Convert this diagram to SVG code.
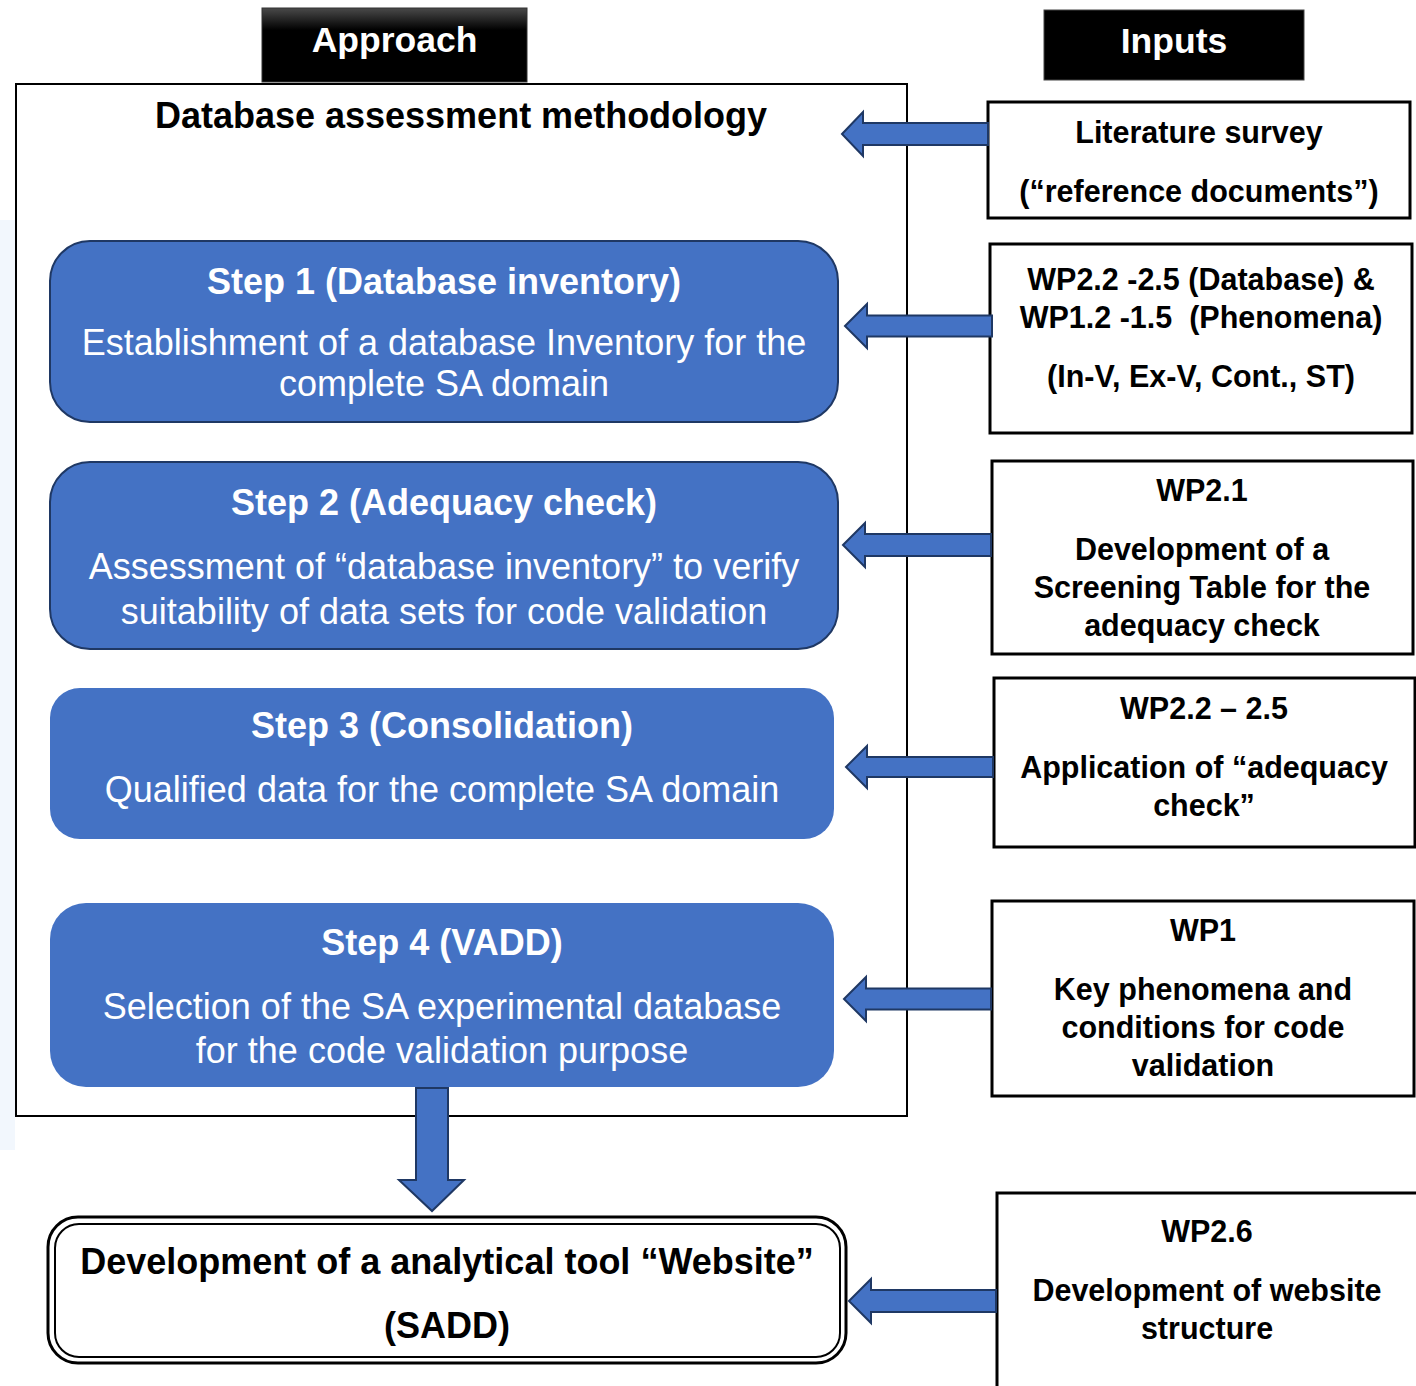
<svg xmlns="http://www.w3.org/2000/svg" width="1416" height="1386" viewBox="0 0 1416 1386">
  <defs>
    <linearGradient id="hdr" x1="0" y1="0" x2="0" y2="1">
      <stop offset="0" stop-color="#4a4a4a"/>
      <stop offset="0.3" stop-color="#000"/>
      <stop offset="1" stop-color="#000"/>
    </linearGradient>
  </defs>
  <style>
    text { font-family: "Liberation Sans", Arial, sans-serif; text-anchor: middle; }
    .hdr { font-size: 35.5px; font-weight: bold; fill: #fff; }
    .big { font-size: 36px; font-weight: bold; fill: #000; }
    .st { font-size: 36px; font-weight: bold; fill: #fff; }
    .sb { font-size: 36px; fill: #fff; }
    .in { font-size: 30.5px; font-weight: bold; fill: #000; }
    .step { fill: #4472C4; }
    .edged { stroke: #1F3864; stroke-width: 2; }
    .inbox { fill: #fff; stroke: #000; stroke-width: 3; }
    .arrow { fill: #4472C4; stroke: #1F3864; stroke-width: 2; stroke-linejoin: miter; }
  </style>

  <rect width="1416" height="1386" fill="#fff"/>
  <!-- pale strip along the left edge -->
  <rect x="0" y="220" width="15" height="930" fill="#f2f7fd"/>

  <!-- column headers -->
  <g id="approach-header">
    <rect x="262" y="8" width="265" height="74" fill="url(#hdr)" stroke="#333" stroke-width="1"/>
    <text class="hdr" x="394.5" y="52">Approach</text>
  </g>
  <g id="inputs-header">
    <rect x="1044" y="10" width="260" height="70" fill="#000" stroke="#444" stroke-width="1"/>
    <text class="hdr" x="1174" y="53">Inputs</text>
  </g>

  <!-- methodology frame -->
  <g id="methodology">
    <rect x="16" y="84" width="891" height="1032" fill="none" stroke="#000" stroke-width="2"/>
    <text class="big" x="461" y="128">Database assessment methodology</text>
  </g>

  <g id="step1">
    <rect class="step edged" x="50" y="241" width="788" height="181" rx="40"/>
    <text class="st" x="444" y="294">Step 1 (Database inventory)</text>
    <text class="sb" x="444" y="355">Establishment of a database Inventory for the</text>
    <text class="sb" x="444" y="396">complete SA domain</text>
  </g>

  <g id="step2">
    <rect class="step edged" x="50" y="462" width="788" height="187" rx="40"/>
    <text class="st" x="444" y="515">Step 2 (Adequacy check)</text>
    <text class="sb" x="444" y="579">Assessment of “database inventory” to verify</text>
    <text class="sb" x="444" y="624">suitability of data sets for code validation</text>
  </g>

  <g id="step3">
    <rect class="step" x="50" y="688" width="784" height="151" rx="30"/>
    <text class="st" x="442" y="738">Step 3 (Consolidation)</text>
    <text class="sb" x="442" y="802">Qualified data for the complete SA domain</text>
  </g>

  <g id="step4">
    <rect class="step" x="50" y="903" width="784" height="184" rx="36"/>
    <text class="st" x="442" y="955">Step 4 (VADD)</text>
    <text class="sb" x="442" y="1019">Selection of the SA experimental database</text>
    <text class="sb" x="442" y="1063">for the code validation purpose</text>
  </g>

  <g id="website-tool">
    <rect x="48" y="1217" width="798" height="146" rx="30" fill="#fff" stroke="#000" stroke-width="3"/>
    <rect x="55" y="1224" width="785" height="133" rx="24" fill="none" stroke="#000" stroke-width="2"/>
    <text class="big" x="447" y="1274">Development of a analytical tool “Website”</text>
    <text class="big" x="447" y="1338">(SADD)</text>
  </g>

  <!-- input boxes -->
  <g id="input-literature">
    <rect class="inbox" x="988" y="102" width="422" height="116"/>
    <text class="in" x="1199" y="143">Literature survey</text>
    <text class="in" x="1199" y="202">(“reference documents”)</text>
  </g>

  <g id="input-wp22-db">
    <rect class="inbox" x="990" y="244" width="422" height="189"/>
    <text class="in" x="1201" y="290">WP2.2 -2.5 (Database) &amp;</text>
    <text class="in" x="1201" y="328" xml:space="preserve">WP1.2 -1.5  (Phenomena)</text>
    <text class="in" x="1201" y="387">(In-V, Ex-V, Cont., ST)</text>
  </g>

  <g id="input-wp21">
    <rect class="inbox" x="992" y="461" width="421" height="193"/>
    <text class="in" x="1202" y="501">WP2.1</text>
    <text class="in" x="1202" y="560">Development of a</text>
    <text class="in" x="1202" y="598">Screening Table for the</text>
    <text class="in" x="1202" y="636">adequacy check</text>
  </g>

  <g id="input-wp22-check">
    <rect class="inbox" x="994" y="678" width="421" height="169"/>
    <text class="in" x="1204" y="719">WP2.2 – 2.5</text>
    <text class="in" x="1204" y="778">Application of “adequacy</text>
    <text class="in" x="1204" y="816">check”</text>
  </g>

  <g id="input-wp1">
    <rect class="inbox" x="992" y="901" width="422" height="195"/>
    <text class="in" x="1203" y="941">WP1</text>
    <text class="in" x="1203" y="1000">Key phenomena and</text>
    <text class="in" x="1203" y="1038">conditions for code</text>
    <text class="in" x="1203" y="1076">validation</text>
  </g>

  <g id="input-wp26">
    <rect class="inbox" x="997" y="1193" width="430" height="210"/>
    <text class="in" x="1207" y="1242">WP2.6</text>
    <text class="in" x="1207" y="1301">Development of website</text>
    <text class="in" x="1207" y="1339">structure</text>
  </g>

  <!-- block arrows -->
  <g id="connectors">
    <path class="arrow" d="M842 134 L863 112 L863 123 L988 123 L988 145 L863 145 L863 156 Z"/>
    <path class="arrow" d="M845 326 L867 304 L867 315.5 L992 315.5 L992 336.5 L867 336.5 L867 348 Z"/>
    <path class="arrow" d="M843 545 L865 523 L865 534 L991 534 L991 556 L865 556 L865 567 Z"/>
    <path class="arrow" d="M846 767 L867 746 L867 757 L993 757 L993 777 L867 777 L867 788 Z"/>
    <path class="arrow" d="M844 999 L866 977 L866 988.5 L991 988.5 L991 1009.5 L866 1009.5 L866 1021 Z"/>
    <path class="arrow" d="M849 1301 L871 1279 L871 1290 L996 1290 L996 1312 L871 1312 L871 1323 Z"/>
    <path class="arrow" d="M416 1088 L448 1088 L448 1180 L464 1180 L432 1211 L399 1180 L416 1180 Z"/>
  </g>
</svg>
